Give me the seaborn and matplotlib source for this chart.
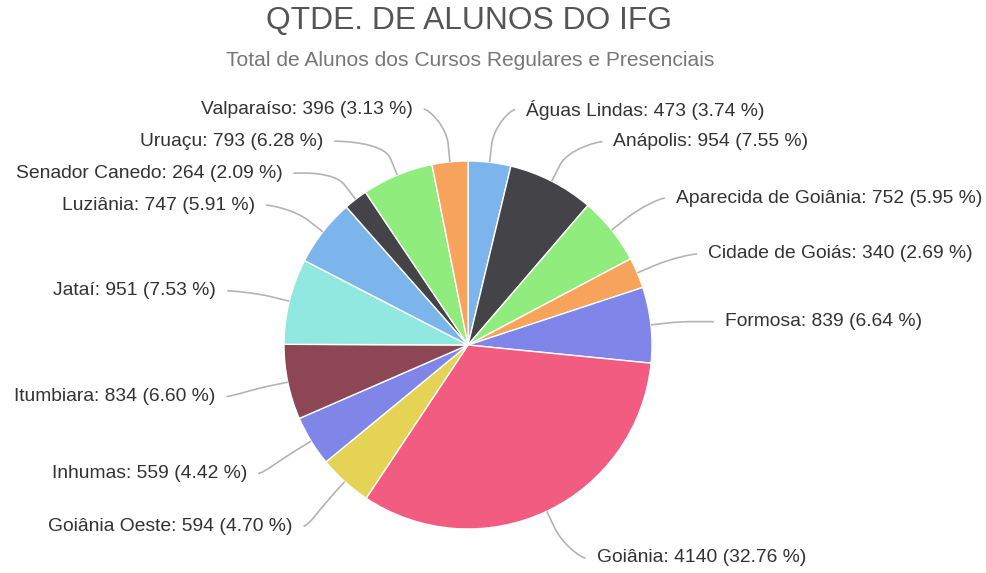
import numpy as np
import seaborn as sns
import matplotlib.pyplot as plt
from matplotlib.path import Path
from matplotlib.patches import PathPatch

# data (clockwise from 12 o'clock)
campi = ["Águas Lindas", "Anápolis", "Aparecida de Goiânia", "Cidade de Goiás",
         "Formosa", "Goiânia", "Goiânia Oeste", "Inhumas", "Itumbiara", "Jataí",
         "Luziânia", "Senador Canedo", "Uruaçu", "Valparaíso"]
alunos = [473, 954, 752, 340, 839, 4140, 594, 559, 834, 951, 747, 264, 793, 396]
cores = ["#7cb5ec", "#434348", "#90ed7d", "#f7a35c", "#8085e9",
         "#f15c80", "#e4d354", "#8085e8", "#8d4653", "#91e8e1"]

titulo = "QTDE. DE ALUNOS DO IFG"
subtitulo = "Total de Alunos dos Cursos Regulares e Presenciais"

sns.set_theme(style="white")
plt.rcParams['font.family'] = ['Liberation Sans', 'DejaVu Sans']

# work in pixel units: 1 data unit = 1 px
W, H = 987, 573
fig = plt.figure(figsize=(W / 100, H / 100), dpi=100)
ax = fig.add_axes([0, 0, 1, 1])

cx, cy, r = 468, 345, 184
palette = sns.color_palette(cores, n_colors=len(campi))

# y axis is inverted below, so -90 points up and counterclock draws clockwise
ax.pie(alunos, colors=palette, startangle=-90, counterclock=True,
       center=(cx, cy), radius=r, frame=True,
       wedgeprops=dict(edgecolor="white", linewidth=1))
ax.set_xlim(0, W)
ax.set_ylim(H, 0)
ax.axis("off")

# label layout, roughly like highcharts
vals = np.array(alunos, dtype=float)
total = vals.sum()
pct = vals / total * 100
theta = np.radians(360 * (np.cumsum(vals) - vals / 2) / total)
R_lab = 240
y_top, y_bot, gap = 109, 558, 32
ys = cy + 3 - R_lab * np.cos(theta)
right = np.sin(theta) >= 0

for side in (right, ~right):
    idx = [i for i in np.argsort(ys) if side[i]]
    prev = -1e9
    for i in idx:
        ys[i] = min(max(ys[i], prev + gap, y_top), y_bot)
        prev = ys[i]
    nxt = 1e9
    for i in reversed(idx):
        ys[i] = min(ys[i], nxt - gap)
        nxt = ys[i]

for i, nome in enumerate(campi):
    s = 1 if right[i] else -1
    dy = ys[i] - cy
    dx = np.sqrt(max(R_lab ** 2 - dy ** 2, 0))
    xt = cx + s * (dx + 5 + 13 * min(1, dx / 100))
    txt = f"{nome}: {alunos[i]} ({pct[i]:.2f} %)"
    ax.text(xt, ys[i], txt, ha="left" if s > 0 else "right", va="center",
            fontsize=13.9, color="#333333")

    u = np.array([np.sin(theta[i]), -np.cos(theta[i])])
    touch = np.array([cx, cy]) + r * u
    brk = np.array([cx, cy]) + (r + 18) * u
    L = np.array([xt - s * 11, ys[i]])
    c1 = L - np.array([s * 5, 0])
    c2 = 2 * brk - touch
    path = Path([L, c1, c2, brk, touch],
                [Path.MOVETO, Path.CURVE4, Path.CURVE4, Path.CURVE4, Path.LINETO])
    ax.add_patch(PathPatch(path, fill=False, edgecolor="#b4b4b4", linewidth=1.2))

ax.text(W / 2 - 25, 21, titulo, ha="center", va="center", fontsize=22.9, color="#555555")
ax.text(W / 2 - 23, 60, subtitulo, ha="center", va="center", fontsize=15.1, color="#777777")

plt.savefig("out.png", dpi=100)
